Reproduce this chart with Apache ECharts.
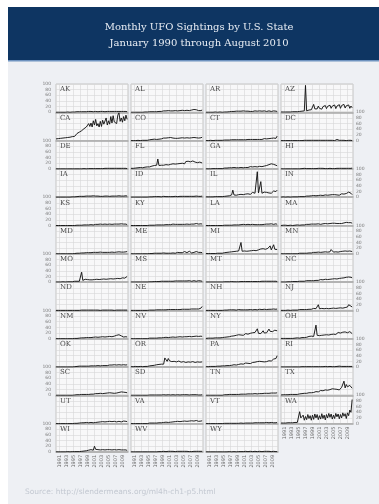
<!DOCTYPE html>
<html><head><meta charset="utf-8">
<script src="https://cdn.jsdelivr.net/npm/echarts@6/dist/echarts.min.js"></script>
<style>html,body{margin:0;padding:0;background:#fff}#c{width:379px;height:504px}</style>
</head><body><div id="c"></div>
<script>
// States in panel order
const STATES = ['AK','AL','AR','AZ','CA','CO','CT','DC','DE','FL','GA','HI','IA','ID','IL','IN','KS','KY','LA','MA','MD','ME','MI','MN','MO','MS','MT','NC','ND','NE','NH','NJ','NM','NV','NY','OH','OK','OR','PA','RI','SC','SD','TN','TX','UT','VA','VT','WA','WI','WV','WY'];
// Monthly sightings sampled every 4 months (Jan, May, Sep) from Jan 1990 to May 2010
const AK = [0,0,0, 0,0,1, 0,0,0, 0,1,0, 0,0,1, 1,1,2, 2,1,2, 1,2,2, 2,3,2, 2,3,2, 3,2,2, 2,3,2, 2,2,3, 2,3,2, 2,3,3, 2,3,2, 3,2,3, 2,3,3, 3,4,3, 2,3,3, 3,2];
const AL = [0,0,0, 0,0,0, 0,1,0, 0,0,1, 1,0,1, 1,2,2, 2,3,2, 3,2,4, 3,4,3, 4,5,3, 5,4,6, 4,5,4, 5,4,6, 4,5,5, 6,5,7, 5,6,5, 7,5,6, 6,8,6, 10,7,9, 8,6,7, 6,8];
const AR = [0,0,0, 0,0,0, 0,0,1, 0,0,0, 1,0,0, 1,1,2, 1,2,2, 2,3,2, 3,2,4, 3,4,3, 4,3,5, 3,4,3, 4,5,3, 4,3,4, 5,3,4, 4,5,3, 4,3,5, 4,3,4, 5,4,3, 4,5,3, 4,3];
const AZ = [1,0,1, 1,1,0, 1,1,1, 1,2,1, 2,1,2, 2,3,2, 4,3,5, 95,5,6, 8,12,9, 15,28,12, 18,12,22, 14,19,11, 20,15,24, 13,21,16, 25,14,22, 18,26,13, 22,15,27, 14,24,17, 28,15,23, 19,26,14, 22,16];
const CA = [6,5,7, 6,8,7, 9,7,10, 8,11,9, 12,10,14, 18,15,22, 25,20,30, 28,35,30, 42,36,48, 45,60,50, 62,48,70, 55,75,52, 60,48,68, 50,72,58, 65,80,55, 70,58,85, 62,88,66, 72,60,90, 98,68,80, 65,85,70, 90,75];
const CO = [0,1,0, 1,0,1, 1,1,0, 1,1,2, 1,2,1, 2,3,2, 4,3,5, 6,4,7, 5,8,6, 7,9,6, 9,7,10, 8,11,7, 9,12,8, 10,8,11, 9,12,10, 11,9,13, 10,12,9, 12,10,14, 11,13,10, 12,9,11, 10,12];
const CT = [0,0,0, 0,1,0, 0,0,1, 0,1,0, 1,0,1, 1,2,1, 2,1,2, 2,3,2, 3,2,3, 4,3,2, 3,4,3, 4,3,5, 4,3,4, 5,4,3, 4,6,4, 5,4,6, 4,5,7, 5,6,5, 7,6,8, 6,9,14, 8,16];
const DC = [0,0,0, 0,0,0, 0,0,0, 0,0,0, 0,0,0, 0,0,1, 0,0,1, 0,1,0, 1,0,1, 0,1,0, 1,0,1, 0,1,1, 1,0,1, 1,1,0, 1,1,1, 1,0,1, 4,1,1, 0,1,1, 1,1,0, 1,1,1, 1,0];
const DE = [0,0,0, 0,0,0, 0,0,0, 0,0,0, 0,0,0, 0,0,1, 0,1,0, 1,0,1, 1,1,0, 1,1,2, 1,2,1, 1,1,2, 1,2,1, 2,1,1, 2,1,2, 1,2,1, 2,1,2, 1,2,2, 2,1,2, 2,2,1, 2,1];
const FL = [2,3,2, 3,3,4, 4,3,5, 5,4,6, 6,5,7, 8,7,9, 10,9,12, 11,13,35, 12,14,13, 16,13,18, 15,19,14, 20,16,22, 18,23,17, 21,18,24, 19,25,20, 23,18,26, 22,27,20, 25,21,28, 32,24,27, 22,28,24, 26,21];
const GA = [0,1,0, 1,0,1, 1,0,1, 1,1,2, 1,2,1, 2,3,2, 3,2,4, 3,4,3, 5,3,4, 5,4,6, 5,6,4, 6,5,7, 5,6,8, 6,7,5, 8,6,7, 7,9,6, 8,7,10, 9,12,8, 15,10,18, 12,16,10, 13,11];
const HI = [0,0,0, 0,0,0, 0,1,0, 0,0,1, 0,1,0, 1,0,1, 1,1,2, 1,1,2, 1,2,1, 2,1,2, 1,2,2, 1,2,1, 2,2,1, 2,1,2, 2,2,1, 2,1,2, 2,3,2, 2,2,3, 2,3,2, 3,2,2, 2,3];
const IA = [0,0,0, 0,0,1, 0,0,0, 1,0,0, 0,1,1, 1,1,2, 2,1,3, 2,3,2, 3,2,4, 3,4,3, 4,3,5, 3,4,3, 4,5,3, 4,3,5, 4,5,4, 5,3,4, 4,6,4, 5,4,6, 5,6,4, 5,4,6, 5,4];
const ID = [0,0,0, 0,0,0, 0,0,0, 0,0,0, 0,0,0, 0,1,1, 1,1,2, 1,2,1, 2,2,1, 2,3,2, 2,3,2, 3,2,3, 2,3,3, 3,2,3, 3,4,3, 3,3,4, 3,4,3, 4,3,4, 3,4,4, 4,3,4, 3,4];
const IL = [1,0,1, 1,1,0, 1,1,2, 1,2,1, 2,1,2, 2,3,3, 4,3,5, 5,8,25, 8,10,7, 12,9,14, 10,13,9, 14,11,16, 12,15,10, 13,17,12, 14,11,90, 15,12,55, 14,16,18, 13,17,20, 15,19,14, 18,22,16, 20,25];
const IN = [0,0,1, 0,0,0, 1,0,0, 1,1,0, 1,1,1, 1,2,2, 2,3,2, 3,4,3, 4,3,5, 4,6,4, 5,4,6, 5,7,5, 6,5,8, 6,7,5, 8,6,9, 7,9,6, 8,10,7, 9,12,8, 11,9,13, 10,18,11, 14,9];
const KS = [0,0,0, 0,0,0, 0,0,0, 0,0,0, 0,0,0, 1,0,1, 1,2,1, 2,1,2, 2,3,2, 3,2,3, 3,4,2, 3,4,3, 4,3,5, 3,4,4, 5,3,4, 4,5,3, 4,4,5, 3,5,4, 5,4,6, 4,5,4, 5,3];
const KY = [0,0,0, 0,0,0, 0,0,0, 0,0,0, 0,0,0, 1,1,1, 1,2,1, 2,2,3, 2,3,2, 3,2,4, 3,5,3, 4,3,4, 5,3,4, 6,4,5, 4,6,4, 5,4,6, 5,7,4, 6,5,7, 5,6,7, 6,5,7, 6,5];
const LA = [0,0,0, 0,0,0, 0,0,0, 0,0,0, 0,0,0, 1,1,2, 1,2,1, 2,1,2, 2,3,2, 3,2,3, 3,2,4, 3,3,2, 4,3,3, 2,4,3, 3,4,3, 4,3,4, 3,5,4, 4,5,3, 5,4,6, 5,4,5, 6,4];
const MA = [0,0,1, 0,1,0, 0,1,1, 1,0,1, 1,1,2, 2,1,3, 2,3,2, 3,4,3, 4,3,5, 4,5,4, 5,4,6, 5,4,6, 6,5,7, 5,6,5, 7,6,8, 6,8,6, 7,9,7, 8,7,10, 9,8,11, 8,10,9, 10,8];
const MD = [0,0,0, 0,0,0, 0,0,0, 0,0,0, 0,0,0, 1,1,2, 2,1,2, 2,3,2, 3,2,4, 3,4,3, 4,3,5, 4,5,3, 5,4,6, 4,5,6, 5,7,5, 6,5,7, 6,8,5, 7,6,8, 7,9,6, 8,6,9, 7,8];
const ME = [0,0,0, 0,0,0, 0,0,0, 0,0,0, 0,0,0, 0,1,1, 1,1,2, 1,2,1, 2,1,2, 2,3,2, 2,3,2, 3,2,3, 3,4,2, 3,5,3, 4,3,4, 3,8,3, 4,3,9, 4,3,4, 5,4,8, 4,5,4, 5,4];
const MI = [1,0,1, 1,1,2, 1,2,1, 2,2,3, 2,3,2, 3,4,3, 5,4,6, 5,7,6, 8,6,9, 7,10,8, 40,9,12, 10,13,9, 12,10,14, 11,15,12, 13,11,16, 14,12,17, 13,18,14, 16,13,19, 15,28,14, 18,32,16, 20,15];
const MN = [0,0,0, 0,0,0, 0,0,0, 0,0,0, 0,0,0, 1,2,1, 2,3,2, 3,2,4, 3,4,3, 4,5,3, 5,4,6, 4,5,4, 6,5,7, 5,6,5, 7,15,8, 6,8,7, 7,6,9, 8,7,9, 8,10,7, 9,8,10, 9,8];
const MO = [0,1,0, 1,0,1, 1,1,0, 1,1,2, 1,2,1, 2,3,2, 3,4,3, 4,35,6, 8,10,7, 9,11,8, 10,8,11, 9,12,10, 11,9,12, 10,13,11, 12,10,13, 11,14,12, 13,11,15, 12,16,13, 14,12,17, 15,18,14, 16,20];
const MS = [0,0,0, 0,0,0, 0,0,0, 0,0,0, 0,0,0, 0,1,1, 1,1,2, 1,2,1, 2,2,3, 2,3,2, 3,2,3, 2,3,4, 3,2,4, 3,4,3, 4,3,4, 3,4,3, 4,3,5, 4,3,4, 5,4,3, 4,5,4, 4,3];
const MT = [0,0,0, 0,0,0, 0,0,0, 0,0,0, 0,0,0, 0,1,0, 1,1,1, 1,2,1, 1,2,1, 2,1,2, 2,1,2, 2,2,1, 2,3,2, 2,2,3, 2,3,2, 3,2,2, 3,2,3, 2,3,3, 3,2,3, 3,3,2, 3,2];
const NC = [0,1,0, 1,0,1, 1,1,1, 1,2,1, 2,1,2, 2,3,2, 3,4,3, 4,5,4, 5,6,5, 6,5,7, 6,8,6, 7,9,7, 8,7,10, 8,9,7, 10,8,11, 9,12,8, 11,9,13, 10,14,11, 15,12,17, 14,18,13, 17,15];
const ND = [0,0,0, 0,0,0, 0,0,0, 0,0,0, 0,0,0, 0,0,1, 0,1,0, 0,1,1, 1,0,1, 1,1,0, 1,1,1, 0,1,1, 1,1,0, 1,1,1, 1,0,1, 1,1,1, 1,1,0, 1,1,1, 1,1,1, 0,1,1, 1,1];
const NE = [0,0,0, 0,0,0, 0,0,0, 0,0,0, 0,0,0, 0,1,1, 1,1,1, 1,2,1, 2,1,2, 2,2,1, 2,2,3, 2,3,2, 3,2,3, 3,3,2, 3,3,4, 3,4,3, 4,3,4, 4,5,4, 5,6,5, 6,5,7, 8,14];
const NH = [0,0,0, 0,0,0, 0,0,0, 0,0,0, 0,0,0, 0,1,1, 1,1,2, 1,2,1, 2,2,1, 2,3,2, 2,3,2, 3,2,3, 2,3,3, 3,2,4, 3,3,2, 3,4,9, 3,3,4, 4,3,4, 4,3,4, 4,5,3, 4,5];
const NJ = [0,1,0, 1,0,1, 1,1,0, 1,1,2, 1,2,1, 2,3,2, 3,4,3, 4,3,5, 4,6,4, 5,7,5, 6,5,20, 6,8,7, 7,6,9, 7,8,6, 9,7,10, 8,10,7, 9,8,11, 9,12,8, 11,10,13, 12,20,14, 15,12];
const NM = [0,0,0, 0,0,0, 0,0,0, 0,0,0, 0,0,0, 1,1,2, 1,2,2, 2,3,2, 3,2,4, 3,4,3, 4,3,5, 4,6,4, 5,4,6, 5,7,5, 6,5,7, 6,8,5, 7,6,9, 6,12,9, 14,8,10, 8,6,9, 7,6];
const NV = [0,0,0, 0,0,0, 0,0,0, 0,0,0, 0,0,0, 1,2,1, 2,3,2, 3,2,4, 3,4,3, 5,4,6, 5,6,4, 6,5,7, 6,8,5, 7,6,8, 7,9,6, 8,7,9, 7,9,8, 9,7,10, 8,10,9, 10,8,9, 9,8];
const NY = [1,1,2, 1,2,1, 2,2,3, 2,3,2, 3,3,4, 4,5,4, 6,5,7, 7,9,8, 10,8,12, 11,14,10, 13,16,12, 15,18,13, 16,14,19, 17,21,15, 22,17,35, 19,24,18, 22,28,20, 24,21,27, 34,26,22, 25,22,30, 24,28];
const OH = [1,0,1, 1,1,1, 1,2,1, 2,1,2, 2,2,3, 3,2,4, 4,5,4, 6,5,7, 8,7,9, 10,8,11, 48,12,14, 11,15,12, 16,13,18, 14,17,13, 19,15,20, 16,21,15, 18,22,17, 20,16,23, 18,24,17, 21,19,25, 22,18];
const OK = [0,0,0, 0,0,0, 0,0,0, 0,0,0, 0,0,0, 1,1,2, 2,1,3, 2,3,2, 3,4,3, 4,3,5, 4,5,4, 5,4,6, 5,6,4, 6,5,7, 5,6,5, 6,7,5, 7,6,8, 6,7,6, 8,6,7, 7,8,6, 7,8];
const OR = [1,1,1, 1,2,1, 1,2,2, 2,1,2, 2,3,2, 3,4,3, 5,4,6, 6,8,7, 9,8,10, 12,10,32, 25,20,30, 22,28,19, 26,20,24, 18,25,21, 23,17,22, 19,24,16, 21,18,23, 17,22,19, 20,16,21, 18,22,17, 20,18];
const PA = [1,1,1, 1,2,1, 2,2,2, 2,3,2, 3,3,4, 3,4,5, 5,6,5, 7,6,8, 8,9,7, 10,9,12, 11,13,10, 12,14,11, 13,15,12, 14,16,13, 17,15,19, 16,20,17, 19,22,18, 21,19,24, 22,26,21, 25,28,23, 30,40];
const RI = [0,0,0, 0,0,0, 0,0,0, 0,0,0, 0,0,0, 0,0,1, 1,0,1, 1,1,1, 1,2,1, 1,1,2, 1,2,1, 2,1,2, 1,2,2, 2,1,2, 2,2,1, 2,1,2, 2,2,3, 2,2,1, 2,3,2, 2,2,3, 2,2];
const SC = [0,0,0, 0,0,0, 0,0,0, 0,0,0, 0,0,0, 1,1,2, 2,1,2, 2,3,2, 3,4,3, 4,3,5, 4,5,4, 5,6,4, 6,5,7, 5,6,8, 7,6,8, 7,9,6, 8,10,7, 9,8,11, 10,9,12, 9,11,8, 10,9];
const SD = [0,0,0, 0,0,0, 0,0,0, 0,0,0, 0,0,0, 0,1,0, 1,0,1, 1,1,0, 1,1,1, 1,2,1, 1,1,2, 1,1,1, 2,1,1, 1,2,1, 1,1,2, 1,2,1, 2,1,1, 1,2,1, 2,1,2, 1,1,2, 1,2];
const TN = [0,0,0, 0,0,0, 0,0,0, 0,0,0, 0,0,0, 1,2,1, 2,2,3, 2,3,3, 3,4,3, 4,3,5, 4,5,4, 5,4,6, 5,6,5, 6,5,7, 6,7,5, 7,6,8, 6,8,7, 8,7,9, 7,9,8, 9,8,10, 8,9];
const TX = [1,1,2, 1,2,2, 2,2,3, 2,3,3, 3,4,3, 4,5,4, 6,5,7, 8,7,10, 9,11,9, 12,10,14, 13,15,12, 14,17,13, 16,14,19, 15,18,14, 20,17,23, 18,22,17, 21,25,19, 23,28,22, 50,26,38, 30,24,35, 28,25];
const UT = [0,0,0, 0,0,0, 0,0,0, 0,0,0, 0,0,0, 1,1,2, 1,2,2, 2,3,2, 3,2,4, 4,3,8, 4,5,3, 5,4,6, 5,4,6, 5,7,4, 6,5,7, 6,8,5, 7,6,8, 9,6,7, 8,10,6, 7,9,6, 8,7];
const VA = [0,0,0, 0,0,0, 0,0,0, 0,0,0, 0,0,0, 1,2,1, 2,3,2, 3,2,4, 3,4,3, 5,4,6, 5,6,4, 6,5,7, 6,5,7, 6,8,6, 7,6,8, 7,9,6, 8,7,9, 8,10,7, 9,8,11, 10,8,12, 9,10];
const VT = [0,0,0, 0,0,0, 0,0,0, 0,0,0, 0,0,0, 0,1,0, 1,1,1, 1,1,2, 1,2,1, 2,1,2, 2,2,1, 2,2,3, 2,2,2, 3,2,2, 3,2,3, 2,3,3, 3,2,3, 3,4,3, 3,3,4, 4,3,4, 3,4];
const WA = [2,3,2, 3,2,3, 3,4,3, 4,3,4, 4,5,4, 5,42,20, 15,30,12, 25,14,32, 18,28,12, 30,15,34, 20,32,14, 28,16,35, 18,30,13, 32,20,36, 22,34,16, 30,18,36, 24,34,17, 32,20,38, 26,35,18, 38,28,48, 40,85];
const WI = [0,0,0, 0,0,1, 0,0,0, 0,1,0, 0,0,1, 1,1,1, 1,2,1, 2,2,3, 3,2,4, 3,6,4, 8,12,6, 20,9,12, 8,6,7, 5,8,6, 7,5,8, 6,8,5, 7,6,8, 6,7,5, 8,6,7, 5,7,6, 7,5];
const WV = [0,0,0, 0,0,0, 0,0,0, 0,0,0, 0,0,0, 0,0,1, 0,1,0, 1,0,1, 1,1,1, 1,2,1, 1,1,2, 1,2,1, 2,1,1, 1,2,2, 2,1,2, 1,2,1, 2,2,1, 2,1,2, 2,3,2, 2,2,3, 2,2];
const WY = [0,0,0, 0,0,0, 0,0,0, 0,0,0, 0,0,0, 0,0,1, 0,0,1, 1,0,1, 1,1,0, 1,1,1, 1,1,1, 1,2,1, 1,1,2, 1,1,1, 2,1,1, 1,2,1, 1,1,2, 1,2,1, 2,1,1, 1,2,1, 1,1];
const SERIES = {AK,AL,AR,AZ,CA,CO,CT,DC,DE,FL,GA,HI,IA,ID,IL,IN,KS,KY,LA,MA,MD,ME,MI,MN,MO,MS,MT,NC,ND,NE,NH,NJ,NM,NV,NY,OH,OK,OR,PA,RI,SC,SD,TN,TX,UT,VA,VT,WA,WI,WV,WY};
const SAMPLE_STEP = 4; // months between samples
const Y_TICKS = [0, 20, 40, 60, 80, 100];

// month categories Jan 1990 .. Aug 2010
const MONTHS = [];
for (let y = 1990; y <= 2010; y++) for (let m = 0; m < 12; m++) { if (MONTHS.length < 248) MONTHS.push(String(y)); }

const chart = echarts.init(document.getElementById('c'), null, {renderer: 'canvas'});
const L0 = 56, CW = 72, CS = 75, T0 = 84, RH = 28.3;
const grids = [], xAxes = [], yAxes = [], series = [], graphics = [];
graphics.push({type:'rect', z:-20, shape:{x:8,y:61,width:371,height:443}, style:{fill:'#eef0f4'}});
graphics.push({type:'rect', z:-19, shape:{x:8,y:7,width:371,height:54}, style:{fill:'#0e3562'}});
graphics.push({type:'rect', z:-18, shape:{x:8,y:60,width:371,height:1.5}, style:{fill:'#6f93bf'}});
graphics.push({type:'text', z:30, x:199, y:19, style:{text:'Monthly UFO Sightings by U.S. State\nJanuary 1990 through August 2010', fill:'#e8edf4', font:'10px "DejaVu Serif"', textAlign:'center', textVerticalAlign:'top', lineHeight:16}});
graphics.push({type:'text', z:30, x:25, y:492, style:{text:'Source: http://slendermeans.org/ml4h-ch1-p5.html', fill:'#c3c8d1', font:'7.5px "DejaVu Sans"', textVerticalAlign:'middle'}});
const tickFn = function(i){ return i % 24 === 12; };
STATES.forEach((st, k) => {
  const r = Math.floor(k / 4), c = k % 4;
  const left = L0 + CS * c, top = T0 + RH * r;
  grids.push({left: left, top: top, width: CW, height: RH, show: true, backgroundColor: '#f8f8f9', borderColor: '#b9b9b9', borderWidth: 0.8, containLabel: false});
  const showX = k >= 48 || k === 47;
  xAxes.push({gridIndex: k, type: 'category', data: MONTHS, boundaryGap: false,
    axisTick: {show: false}, axisLine: {show: true, lineStyle: {color: '#a8a8a8', width: 1.5}},
    axisLabel: {show: showX, interval: tickFn, rotate: 90, fontSize: 5, color: '#6a6a6a', margin: 3, fontFamily: 'DejaVu Sans'},
    splitLine: {show: true, interval: tickFn, lineStyle: {color: '#d6d6d6', width: 0.6}}});
  const showLeft = c === 0 && r % 2 === 0;
  const showRight = c === 3 && r % 2 === 1;
  yAxes.push({gridIndex: k, type: 'value', min: Y_TICKS[0], max: Y_TICKS[Y_TICKS.length-1], interval: 20,
    position: showRight ? 'right' : 'left',
    axisLine: {show: false}, axisTick: {show: false},
    axisLabel: {show: showLeft || showRight, fontSize: 4.5, color: '#7a7a7a', margin: showRight ? 3 : 5, fontFamily: 'DejaVu Sans'},
    splitLine: {show: true, lineStyle: {color: '#d6d6d6', width: 0.6}}});
  series.push({type: 'line', xAxisIndex: k, yAxisIndex: k, symbol: 'none', silent: true, animation: false,
    lineStyle: {color: '#151515', width: 0.95},
    data: SERIES[st].map((v, i) => [i * SAMPLE_STEP, v])});
  graphics.push({type: 'text', z: 30, x: left + 4, y: top + 2, style: {text: st, fill: '#4a4a4a', font: '7px "DejaVu Serif"', textVerticalAlign: 'top'}});
});
chart.setOption({animation: false, backgroundColor: '#ffffff', grid: grids, xAxis: xAxes, yAxis: yAxes, series: series, graphic: graphics});
</script></body></html>
